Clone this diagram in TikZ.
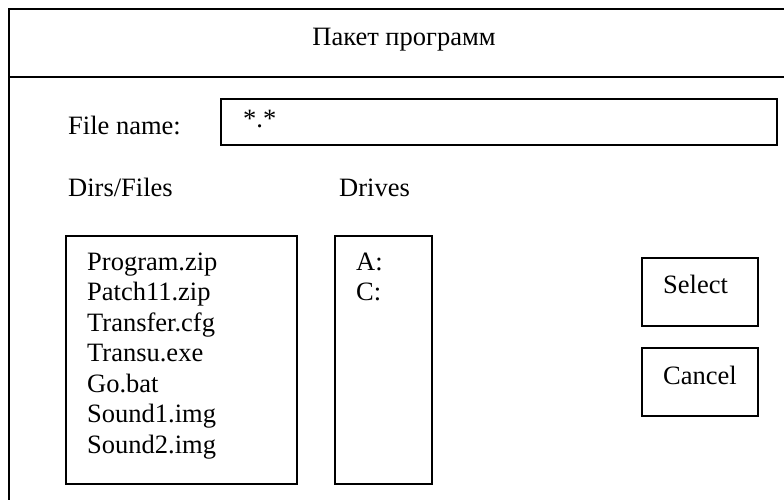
\documentclass[tikz,border=0pt]{standalone}
\usepackage{fontspec}
\setmainfont{Liberation Serif}
\begin{document}
\begin{tikzpicture}[x=1pt,y=-1pt,
  frameline/.style={line width=2pt},
  boxline/.style={draw,line width=1.6pt},
  lbl/.style={anchor=base west,inner sep=0pt,font=\fontsize{26.5}{31}\selectfont}]
\useasboundingbox (0,0) rectangle (784,500);
\fill[white] (0,0) rectangle (784,500);
% outer frame (clipped at right and bottom)
\coordinate (tl) at (9,9);
\coordinate (tr) at (784,9);
\coordinate (bl) at (9,500);
\coordinate (sl) at (9,77);
\coordinate (sr) at (784,77);
\draw[frameline] (bl) -- (tl) -- (tr);
\draw[frameline] (sl) -- (sr);
\node[anchor=base,inner sep=0pt,font=\fontsize{26.5}{31}\selectfont] (title) at (404,46) {Пакет программ};
% file name
\node[lbl] (fnl) at (68,135) {File name:};
\draw[boxline] (221,99) rectangle (777,145);
\node[lbl] (fnv) at (243,128) {*.*};
% labels
\node[lbl] (dirsl) at (68,196) {Dirs/Files};
\node[lbl] (drvl) at (339,196) {Drives};
% lists
\draw[boxline] (66,236) rectangle (297,484);
\draw[boxline] (335,236) rectangle (432,484);
\foreach \t [count=\i from 0] in {Program.zip,Patch11.zip,Transfer.cfg,Transu.exe,Go.bat,Sound1.img,Sound2.img}
  \node[lbl] (f\i) at (87,270+30.5*\i) {\t};
\node[lbl] (da) at (356,270) {A:};
\node[lbl] (dc) at (356,300.5) {C:};
% buttons
\draw[boxline] (642,258) rectangle (758,326);
\node[lbl] (sel) at (663,293) {Select};
\draw[boxline] (642,348) rectangle (758,416);
\node[lbl] (can) at (663,384) {Cancel};
\end{tikzpicture}
\end{document}
